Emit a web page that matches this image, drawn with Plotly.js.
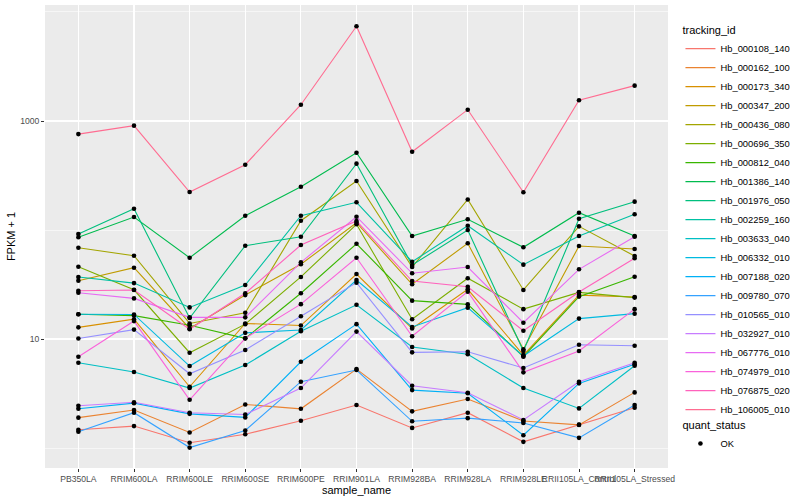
<!DOCTYPE html>
<html>
<head>
<meta charset="utf-8">
<script src="https://cdn.plot.ly/plotly-3.0.1.min.js"></script>
<style>
html, body { margin: 0; padding: 0; background: #ffffff; }
#chart { width: 800px; height: 500px; }
</style>
</head>
<body>
<div id="chart"></div>
<script>
// ---- data ----
const sampleNames = ['PB350LA', 'RRIM600LA', 'RRIM600LE', 'RRIM600SE', 'RRIM600PE', 'RRIM901LA',
  'RRIM928BA', 'RRIM928LA', 'RRIM928LE', 'RRII105LA_Control', 'RRII105LA_Stressed'];

const trackingIds = ['Hb_000108_140', 'Hb_000162_100', 'Hb_000173_340', 'Hb_000347_200', 'Hb_000436_080',
  'Hb_000696_350', 'Hb_000812_040', 'Hb_001386_140', 'Hb_001976_050', 'Hb_002259_160',
  'Hb_003633_040', 'Hb_006332_010', 'Hb_007188_020', 'Hb_009780_070', 'Hb_010565_010',
  'Hb_032927_010', 'Hb_067776_010', 'Hb_074979_010', 'Hb_076875_020', 'Hb_106005_010'];

// FPKM + 1 per sample (same order as sampleNames)
const Hb_000108_140 = [1.47, 1.59, 1.12, 1.34, 1.78, 2.48, 1.53, 2.11, 1.14, 1.64, 2.34];
const Hb_000162_100 = [1.90, 2.23, 1.39, 2.51, 2.29, 5.30, 2.17, 2.82, 1.77, 1.63, 3.24];
const Hb_000173_340 = [12.8, 15.2, 3.65, 13.9, 13.3, 39.5, 12.5, 28.6, 7.13, 25.3, 24.3];
const Hb_000347_200 = [34.3, 45.1, 12.5, 25.3, 48.5, 116.7, 31.8, 75.5, 8.05, 71.3, 66.9];
const Hb_000436_080 = [68.8, 58.1, 13.9, 17.4, 121.7, 281.5, 45.8, 190.5, 28.2, 108.1, 57.7];
const Hb_000696_350 = [46.1, 28.3, 7.49, 13.7, 37.1, 112.8, 15.2, 36.1, 18.8, 26.8, 24.0];
const Hb_000812_040 = [16.9, 16.4, 13.4, 10.15, 26.3, 74.8, 22.5, 20.8, 6.88, 24.5, 37.3];
const Hb_001386_140 = [85.7, 131.6, 55.7, 135.3, 249.6, 512, 88.1, 125.4, 69.4, 144.2, 88.1];
const Hb_001976_050 = [91.9, 156.8, 15.6, 71.8, 86.8, 406, 47.7, 100, 7.76, 127, 182];
const Hb_002259_160 = [37.1, 32.6, 19.5, 31.3, 135.3, 179.5, 51.2, 109.5, 48.1, 88.1, 139.3];
const Hb_003633_040 = [6.06, 4.98, 3.55, 5.77, 11.8, 20.6, 8.45, 7.24, 3.55, 2.31, 5.69];
const Hb_006332_010 = [16.9, 16.8, 5.65, 11.4, 12.1, 34.8, 12.9, 19.4, 6.98, 15.4, 17.1];
const Hb_007188_020 = [2.29, 2.58, 2.06, 1.91, 6.19, 13.7, 3.40, 3.18, 1.31, 3.92, 5.86];
const Hb_009780_070 = [1.41, 2.11, 1.01, 1.45, 4.06, 5.20, 1.76, 1.88, 1.70, 1.24, 2.48];
const Hb_010565_010 = [10.1, 12.2, 4.80, 7.93, 16.2, 32.9, 7.55, 7.65, 5.42, 8.87, 8.68];
const Hb_032927_010 = [2.44, 2.63, 2.11, 2.03, 3.55, 11.7, 3.73, 3.22, 1.81, 4.06, 6.06];
const Hb_067776_010 = [26.6, 23.6, 15.8, 15.8, 50.5, 132.4, 40.1, 45.8, 14.1, 43.6, 86.8];
const Hb_074979_010 = [6.88, 14.6, 2.77, 10.15, 20.9, 55.7, 10.6, 27.2, 4.95, 7.76, 18.8];
const Hb_076875_020 = [27.7, 28.2, 12.3, 26.3, 72.8, 120.9, 34.0, 30.2, 11.9, 27.0, 55.0];
const Hb_106005_010 = [758, 906, 223, 397, 1410, 7400, 522, 1270, 222, 1549, 2110];

const seriesValues = [Hb_000108_140, Hb_000162_100, Hb_000173_340, Hb_000347_200, Hb_000436_080,
  Hb_000696_350, Hb_000812_040, Hb_001386_140, Hb_001976_050, Hb_002259_160,
  Hb_003633_040, Hb_006332_010, Hb_007188_020, Hb_009780_070, Hb_010565_010,
  Hb_032927_010, Hb_067776_010, Hb_074979_010, Hb_076875_020, Hb_106005_010];

const quantStatus = ['OK'];
const yTickVals = [10, 1000];
const yTickText = ['10', '1000'];
const yMinorVals = [1, 100, 10000];

// ---- style ----
const hueColors = ['#F8766D', '#EA8331', '#D89000', '#C09B00', '#A3A500', '#7CAE00', '#39B600',
  '#00BB4E', '#00BF7D', '#00C1A3', '#00BFC4', '#00BAE0', '#00B0F6', '#35A2FF', '#9590FF',
  '#C77CFF', '#E76BF3', '#FA62DB', '#FF62BC', '#FF6C91'];

const FONT = 'Liberation Sans, Arial, Helvetica, sans-serif';

const traces = [];
trackingIds.forEach(function (id, i) {
  traces.push({
    type: 'scatter', mode: 'lines', name: id,
    x: sampleNames, y: seriesValues[i],
    line: { color: hueColors[i], width: 1.1 },
    legend: 'legend', hoverinfo: 'x+y+name'
  });
});

const ptsX = [], ptsY = [];
seriesValues.forEach(function (vals) {
  vals.forEach(function (v, j) { ptsX.push(sampleNames[j]); ptsY.push(v); });
});
traces.push({
  type: 'scatter', mode: 'markers', name: quantStatus[0],
  x: ptsX, y: ptsY,
  marker: { color: '#000000', size: 4.6 },
  legend: 'legend2', hoverinfo: 'x+y'
});

const layout = {
  width: 800, height: 500,
  margin: { l: 45, r: 116, t: 5, b: 32 },
  paper_bgcolor: '#FFFFFF', plot_bgcolor: '#EBEBEB',
  font: { family: FONT, size: 9, color: '#4D4D4D' },
  showlegend: true,
  xaxis: {
    type: 'category', categoryorder: 'array', categoryarray: sampleNames,
    range: [-0.6, sampleNames.length - 0.4],
    showgrid: true, gridcolor: '#FFFFFF', gridwidth: 1.1,
    zeroline: false, showline: false,
    ticks: 'outside', ticklen: 3, tickwidth: 1, tickcolor: '#333333',
    tickangle: 0, tickfont: { family: FONT, size: 8.6, color: '#4D4D4D' },
    title: { text: 'sample_name', font: { family: FONT, size: 11, color: '#000000' }, standoff: 0 },
    automargin: false, fixedrange: true
  },
  yaxis: {
    type: 'log', range: [-0.183, 4.064],
    tickmode: 'array', tickvals: yTickVals, ticktext: yTickText,
    showgrid: true, gridcolor: '#FFFFFF', gridwidth: 1.1,
    minor: { tickmode: 'array', tickvals: yMinorVals, showgrid: true, gridcolor: '#FFFFFF', gridwidth: 0.55, ticklen: 0 },
    zeroline: false, showline: false,
    ticks: 'outside', ticklen: 3, tickwidth: 1, tickcolor: '#333333',
    tickfont: { family: FONT, size: 8.6, color: '#4D4D4D' },
    title: { text: 'FPKM + 1', font: { family: FONT, size: 11, color: '#000000' }, standoff: 2 },
    automargin: false, fixedrange: true
  },
  legend: {
    x: 1.02, xanchor: 'left', y: 0.968, yanchor: 'top',
    bgcolor: 'rgba(255,255,255,0)', borderwidth: 0,
    title: { text: 'tracking_id', font: { family: FONT, size: 11, color: '#000000' } },
    font: { family: FONT, size: 9.4, color: '#000000' },
    itemwidth: 30, tracegroupgap: 0, itemclick: false, itemdoubleclick: false
  },
  legend2: {
    x: 1.02, xanchor: 'left', y: 0.115, yanchor: 'top',
    bgcolor: 'rgba(255,255,255,0)', borderwidth: 0,
    title: { text: 'quant_status', font: { family: FONT, size: 11, color: '#000000' } },
    font: { family: FONT, size: 9.4, color: '#000000' },
    itemwidth: 30, itemclick: false, itemdoubleclick: false
  }
};

Plotly.newPlot('chart', traces, layout, { displayModeBar: false, staticPlot: true });
</script>
</body>
</html>
